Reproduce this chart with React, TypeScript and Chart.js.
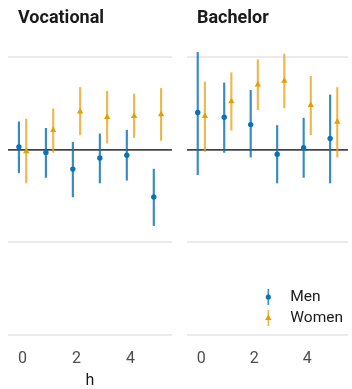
import { useEffect, useRef } from "react";
import { Chart, registerables } from "chart.js";

Chart.register(...registerables);

// Horizons (h) and axis ticks
const horizons = [0, 1, 2, 3, 4, 5];
const xTickValues = [0, 2, 4];
const yGridValues = [-0.2, -0.1, 0, 0.1];

// Vocational panel: estimates with lower / upper bounds
const vocMenEst = [0.003, -0.003, -0.021, -0.009, -0.006, -0.051];
const vocMenLo = [-0.025, -0.030, -0.051, -0.036, -0.033, -0.082];
const vocMenHi = [0.030, 0.023, 0.008, 0.017, 0.021, -0.021];
const vocWomenEst = [-0.002, 0.021, 0.041, 0.035, 0.036, 0.038];
const vocWomenLo = [-0.036, -0.003, 0.016, 0.007, 0.013, 0.010];
const vocWomenHi = [0.033, 0.044, 0.067, 0.063, 0.060, 0.066];

// Bachelor panel
const bachMenEst = [0.040, 0.035, 0.027, -0.005, 0.002, 0.012];
const bachMenLo = [-0.027, -0.003, -0.008, -0.036, -0.030, -0.036];
const bachMenHi = [0.105, 0.072, 0.064, 0.026, 0.034, 0.059];
const bachWomenEst = [0.036, 0.052, 0.070, 0.074, 0.048, 0.030];
const bachWomenLo = [-0.002, 0.021, 0.043, 0.045, 0.016, -0.008];
const bachWomenHi = [0.073, 0.083, 0.097, 0.103, 0.079, 0.067];

const seriesNames = ["Men", "Women"];

const MEN_COLOR = "#0B72B5";
const MEN_BAR = "rgba(11,114,181,0.82)";
const WOMEN_COLOR = "#E69F00";
const WOMEN_BAR = "rgba(232,160,20,0.75)";
const DODGE = 0.135;

const TICK_FONT = "Roboto, 'Noto Sans', sans-serif";
const CANVAS_H = 392;

type Series = { est: number[]; lo: number[]; hi: number[] };

const panelDecor = {
  id: "panelDecor",
  afterDraw(chart: any, _args: any, opts: any) {
    const { ctx, chartArea } = chart;
    ctx.save();
    ctx.font = "bold 18px Roboto, sans-serif";
    ctx.fillStyle = "#1a1a1a";
    ctx.textBaseline = "alphabetic";
    ctx.textAlign = "left";
    ctx.fillText(opts.title, chartArea.left + 10, 23);

    if (opts.showLegend) {
      const keyX = chartArea.left + 0.505 * (chartArea.right - chartArea.left);
      const baseY = chartArea.top + 0.83 * (chartArea.bottom - chartArea.top);
      const gap = 21;
      const styles = [
        { bar: MEN_BAR, pt: MEN_COLOR, shape: "circle" },
        { bar: WOMEN_BAR, pt: WOMEN_COLOR, shape: "triangle" },
      ];
      seriesNames.forEach((name, i) => {
        const y = baseY + i * gap;
        const s = styles[i];
        ctx.strokeStyle = s.bar;
        ctx.lineWidth = 1.6;
        ctx.beginPath();
        ctx.moveTo(keyX, y - 8);
        ctx.lineTo(keyX, y + 8);
        ctx.stroke();
        ctx.fillStyle = s.pt;
        ctx.beginPath();
        if (s.shape === "circle") {
          ctx.arc(keyX, y, 2.6, 0, Math.PI * 2);
        } else {
          const r = 3.4;
          ctx.moveTo(keyX, y - r);
          ctx.lineTo(keyX + r * 0.95, y + r * 0.6);
          ctx.lineTo(keyX - r * 0.95, y + r * 0.6);
          ctx.closePath();
        }
        ctx.fill();
        ctx.fillStyle = "#1a1a1a";
        ctx.font = "15.5px Roboto, sans-serif";
        ctx.textBaseline = "middle";
        ctx.fillText(name, keyX + 22, y + 0.5);
      });
    }
    ctx.restore();
  },
};

function buildDatasets(men: Series, women: Series) {
  const bars = (s: Series, shift: number) =>
    horizons.map((h, i) => ({ x: h + shift, y: [s.lo[i], s.hi[i]] }));
  const pts = (s: Series, shift: number) =>
    horizons.map((h, i) => ({ x: h + shift, y: s.est[i] }));
  return [
    {
      type: "bar",
      label: "Men interval",
      data: bars(men, -DODGE),
      backgroundColor: MEN_BAR,
      borderWidth: 0,
      barThickness: 1.5,
      grouped: false,
      order: 3,
    },
    {
      type: "bar",
      label: "Women interval",
      data: bars(women, DODGE),
      backgroundColor: WOMEN_BAR,
      borderWidth: 0,
      barThickness: 1.5,
      grouped: false,
      order: 3,
    },
    {
      type: "scatter",
      label: seriesNames[0],
      data: pts(men, -DODGE),
      pointStyle: "circle",
      pointRadius: 2.7,
      backgroundColor: MEN_COLOR,
      borderWidth: 0,
      order: 1,
    },
    {
      type: "scatter",
      label: seriesNames[1],
      data: pts(women, DODGE),
      pointStyle: "triangle",
      pointRadius: 3.7,
      backgroundColor: WOMEN_COLOR,
      borderWidth: 0,
      order: 1,
    },
  ];
}

function Panel(props: {
  title: string;
  men: Series;
  women: Series;
  left: number;
  padLeft: number;
  padRight: number;
  showAxisTitle: boolean;
  showLegend: boolean;
}) {
  const ref = useRef<HTMLCanvasElement | null>(null);

  useEffect(() => {
    if (!ref.current) return;
    const chart = new Chart(ref.current, {
      type: "scatter",
      data: { datasets: buildDatasets(props.men, props.women) as any },
      plugins: [panelDecor],
      options: {
        responsive: false,
        animation: false,
        events: [],
        layout: {
          padding: {
            left: props.padLeft,
            right: props.padRight,
            top: 43,
            bottom: props.showAxisTitle ? 0 : 23.8,
          },
        },
        scales: {
          x: {
            type: "linear",
            min: -0.54,
            max: 5.54,
            offset: false,
            grid: { display: false, drawTicks: false },
            border: { display: false },
            afterBuildTicks: (scale: any) => {
              scale.ticks = xTickValues.map((v) => ({ value: v }));
            },
            ticks: {
              padding: 0,
              color: "#4d4d4d",
              font: { family: TICK_FONT, size: 16 },
              callback: (v: any) => String(v),
            },
            title: {
              display: props.showAxisTitle,
              text: "h",
              color: "#1a1a1a",
              padding: { top: 3.2, bottom: 1.4 },
              font: { family: TICK_FONT, size: 16 },
            },
          },
          y: {
            type: "linear",
            min: -0.215,
            max: 0.115,
            afterBuildTicks: (scale: any) => {
              scale.ticks = yGridValues.map((v) => ({ value: v }));
            },
            ticks: { display: false },
            border: { display: false },
            grid: {
              drawTicks: false,
              color: (c: any) => (c.tick && c.tick.value === 0 ? "#444444" : "#ebebeb"),
              lineWidth: (c: any) => (c.tick && c.tick.value === 0 ? 1.8 : 2),
            },
          },
        },
        plugins: {
          legend: { display: false },
          tooltip: { enabled: false },
          panelDecor: { title: props.title, showLegend: props.showLegend },
        } as any,
      },
    } as any);
    return () => chart.destroy();
  }, []);

  return (
    <canvas
      ref={ref}
      width={176}
      height={CANVAS_H}
      style={{ position: "absolute", left: props.left, top: 0, width: 176, height: CANVAS_H }}
    />
  );
}

export default function App() {
  return (
    <div
      style={{
        position: "fixed",
        left: 0,
        top: 0,
        width: 352,
        height: 389,
        background: "#ffffff",
        overflow: "hidden",
      }}
    >
      <Panel
        title="Vocational"
        men={{ est: vocMenEst, lo: vocMenLo, hi: vocMenHi }}
        women={{ est: vocWomenEst, lo: vocWomenLo, hi: vocWomenHi }}
        left={0}
        padLeft={8}
        padRight={1}
        showAxisTitle={true}
        showLegend={false}
      />
      <Panel
        title="Bachelor"
        men={{ est: bachMenEst, lo: bachMenLo, hi: bachMenHi }}
        women={{ est: bachWomenEst, lo: bachWomenLo, hi: bachWomenHi }}
        left={176}
        padLeft={11}
        padRight={0}
        showAxisTitle={false}
        showLegend={true}
      />
    </div>
  );
}
